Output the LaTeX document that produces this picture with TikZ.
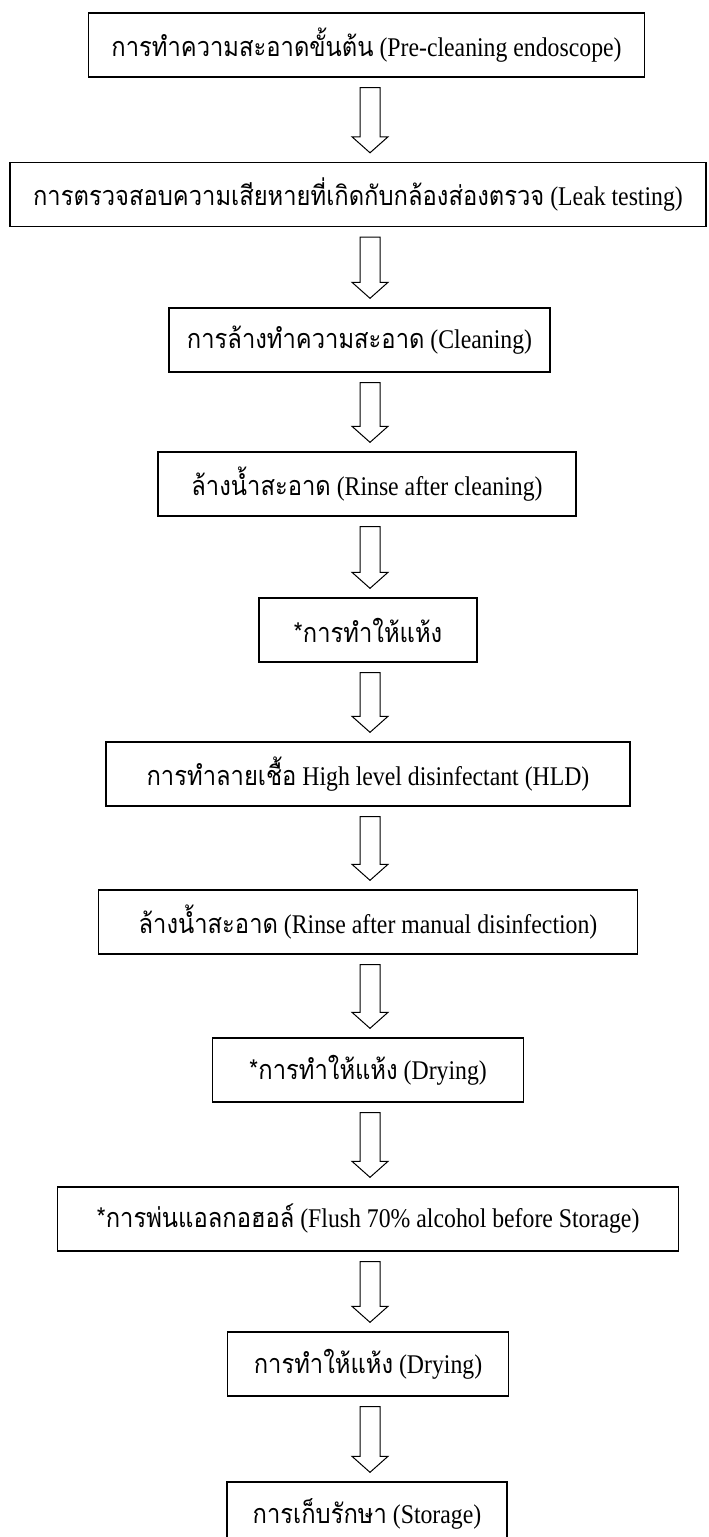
\documentclass[tikz,border=0pt]{standalone}
\usepackage{fontspec}
\setmainfont{Liberation Serif}[FakeStretch=0.88]
\newfontfamily\thaifont[Script=Thai,FakeStretch=0.88]{Loma}
\usetikzlibrary{calc}

\tikzset{
  stepbox/.style={draw=black, line width=1.4pt, minimum height=64pt, inner sep=0pt,
    font=\fontsize{27}{31}\selectfont},
  hollow/.style={draw=black, line width=1pt, fill=white, line join=miter}
}
% hollow down arrow from one box to the next, on the line of (axis)
\newcommand{\flowarrow}[2]{%
  \draw[hollow] let \p1=(#1.south), \p2=(#2.north), \p3=(axis) in
    (\x3-10pt,\y1-10pt) -- (\x3+10pt,\y1-10pt) -- (\x3+10pt,\y2+25pt) -- (\x3+18pt,\y2+25pt)
    -- (\x3,\y2+9pt) -- (\x3-18pt,\y2+25pt) -- (\x3-10pt,\y2+25pt) -- cycle;}

\begin{document}
\begin{tikzpicture}[x=1pt,y=1pt]
  \useasboundingbox (0,0) rectangle (709,-1537);
  \coordinate (axis) at (370,0);

  \node[stepbox, minimum width=556] (precl) at (366.5,-45) {{\thaifont การทำความสะอาดขั้นต้น} (Pre-cleaning endoscope)};
  \node[stepbox, minimum width=696] (leak) at (358,-194.5) {{\thaifont การตรวจสอบความเสียหายที่เกิดกับกล้องส่องตรวจ} (Leak testing)};
  \node[stepbox, minimum width=381] (clean) at (359.5,-340) {{\thaifont การล้างทำความสะอาด} (Cleaning)};
  \node[stepbox, minimum width=418] (rinse) at (367,-484) {{\thaifont ล้างน้ำสะอาด} (Rinse after cleaning)};
  \node[stepbox, minimum width=218] (dryA) at (368,-630) {{\thaifont *การทำให้แห้ง}};
  \node[stepbox, minimum width=524] (hld) at (368,-774) {{\thaifont การทำลายเชื้อ} High level disinfectant (HLD)};
  \node[stepbox, minimum width=539] (rinsem) at (368,-922) {{\thaifont ล้างน้ำสะอาด} (Rinse after manual disinfection)};
  \node[stepbox, minimum width=311] (dryB) at (368,-1070) {{\thaifont *การทำให้แห้ง} (Drying)};
  \node[stepbox, minimum width=621] (flush) at (368,-1219) {{\thaifont *การพ่นแอลกอฮอล์} (Flush 70\% alcohol before Storage)};
  \node[stepbox, minimum width=281] (dryC) at (368,-1364) {{\thaifont การทำให้แห้ง} (Drying)};
  \node[stepbox, minimum width=280] (store) at (367,-1514) {{\thaifont การเก็บรักษา} (Storage)};

  \flowarrow{precl}{leak}
  \flowarrow{leak}{clean}
  \flowarrow{clean}{rinse}
  \flowarrow{rinse}{dryA}
  \flowarrow{dryA}{hld}
  \flowarrow{hld}{rinsem}
  \flowarrow{rinsem}{dryB}
  \flowarrow{dryB}{flush}
  \flowarrow{flush}{dryC}
  \flowarrow{dryC}{store}
\end{tikzpicture}
\end{document}
